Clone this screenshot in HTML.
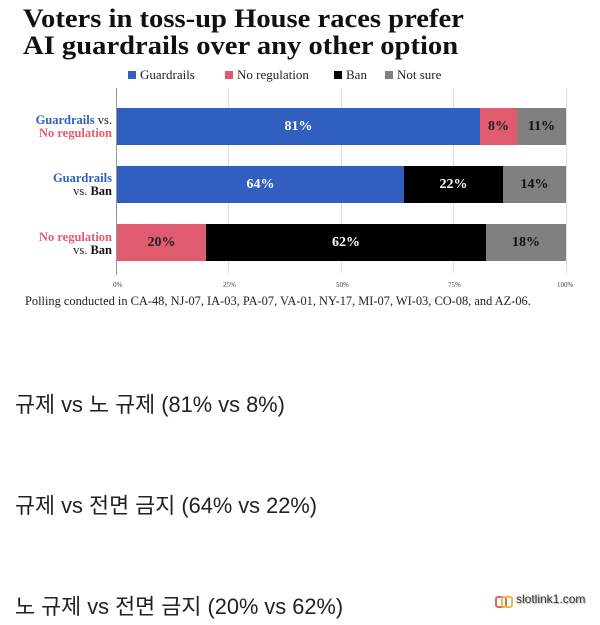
<!DOCTYPE html>
<html><head><meta charset="utf-8"><style>
body{margin:0;width:600px;height:625px;background:#fff;position:relative;overflow:hidden;font-family:"Liberation Serif",serif}
.a{position:absolute}
.t{left:23px;top:5px;font-size:26px;font-weight:bold;line-height:27px;color:#111;transform:scaleX(1.1);transform-origin:0 0;white-space:nowrap}
.lg{top:67px;font-size:13px;color:#222;white-space:nowrap}
.sq{display:inline-block;width:8px;height:8px;margin-right:4px;vertical-align:0}
.bar{height:37px;font-weight:bold;font-size:14px;display:flex;align-items:center;justify-content:center}
.grid{width:1px;background:#ddd;top:88px;height:185px}
.yl{right:488px;text-align:right;font-size:12.5px;font-weight:bold;line-height:13px;white-space:nowrap}
.tk{top:281px;font-size:7px;color:#444}
.k{left:15px;font-family:"Liberation Sans","Noto Sans CJK KR",sans-serif;font-size:21.8px;color:#222}
</style></head><body>
<div class="a t">Voters in toss-up House races prefer<br>AI guardrails over any other option</div>
<div class="a lg" style="left:128px"><span class="sq" style="background:#3060c0"></span>Guardrails</div>
<div class="a lg" style="left:225px"><span class="sq" style="background:#e05a70"></span>No regulation</div>
<div class="a lg" style="left:334px"><span class="sq" style="background:#000"></span>Ban</div>
<div class="a lg" style="left:385px"><span class="sq" style="background:#808080"></span>Not sure</div>
<div class="a grid" style="left:228px"></div>
<div class="a grid" style="left:341px"></div>
<div class="a grid" style="left:453px"></div>
<div class="a grid" style="left:566px"></div>
<div class="a" style="left:116px;top:88px;width:1px;height:187px;background:#999"></div>
<div class="a bar" style="left:117px;top:108px;width:363px;background:#315fc0;color:#fff">81%</div>
<div class="a bar" style="left:480px;top:108px;width:37px;background:#e05a70;color:#222">8%</div>
<div class="a bar" style="left:517px;top:108px;width:49px;background:#808080;color:#111">11%</div>
<div class="a bar" style="left:117px;top:166px;width:287px;background:#315fc0;color:#fff">64%</div>
<div class="a bar" style="left:404px;top:166px;width:99px;background:#000;color:#fff">22%</div>
<div class="a bar" style="left:503px;top:166px;width:63px;background:#808080;color:#111">14%</div>
<div class="a bar" style="left:117px;top:224px;width:89px;background:#e05a70;color:#222">20%</div>
<div class="a bar" style="left:206px;top:224px;width:280px;background:#000;color:#fff">62%</div>
<div class="a bar" style="left:486px;top:224px;width:80px;background:#808080;color:#111">18%</div>
<div class="a yl" style="top:114px"><span style="color:#315fc0">Guardrails</span> <span style="font-weight:normal;color:#222">vs.</span><br><span style="color:#e05a70">No regulation</span></div>
<div class="a yl" style="top:172px"><span style="color:#315fc0">Guardrails</span><br><span style="font-weight:normal;color:#222">vs.</span> <span style="color:#111">Ban</span></div>
<div class="a yl" style="top:231px"><span style="color:#e05a70">No regulation</span><br><span style="font-weight:normal;color:#222">vs.</span> <span style="color:#111">Ban</span></div>
<div class="a tk" style="left:113px">0%</div>
<div class="a tk" style="left:223px">25%</div>
<div class="a tk" style="left:336px">50%</div>
<div class="a tk" style="left:448px">75%</div>
<div class="a tk" style="left:557px">100%</div>
<div class="a" style="left:25px;top:294px;font-size:12.4px;color:#222;white-space:nowrap">Polling conducted in CA-48, NJ-07, IA-03, PA-07, VA-01, NY-17, MI-07, WI-03, CO-08, and AZ-06.</div>
<div class="a k" style="top:388px">규제 vs 노 규제 (81% vs 8%)</div>
<div class="a k" style="top:489px">규제 vs 전면 금지 (64% vs 22%)</div>
<div class="a k" style="top:590px">노 규제 vs 전면 금지 (20% vs 62%)</div>
<div class="a" style="left:495px;top:596px;width:8px;height:8px;border:2px solid #e86070;border-radius:3px"></div>
<div class="a" style="left:501px;top:596px;width:8px;height:8px;border:2px solid #e8c040;border-radius:3px"></div>
<div class="a" style="left:516px;top:592px;font-family:'Liberation Sans',sans-serif;font-size:12px;color:#333;text-shadow:1px 1px 1px #aaa">slotlink1.com</div>
</body></html>
